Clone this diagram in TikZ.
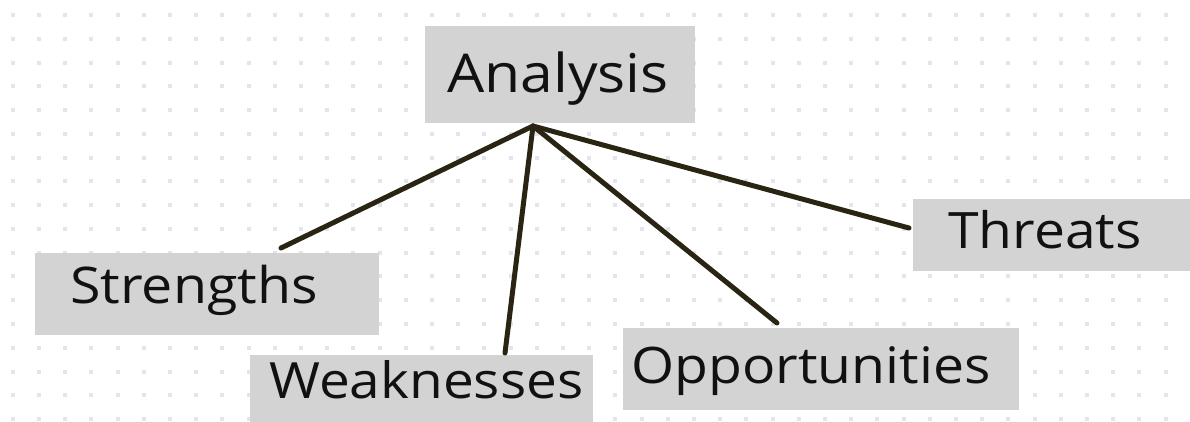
\documentclass[tikz,border=0pt]{standalone}
\usepackage{fontspec}
\setmainfont{Open Sans}[FakeStretch=1.1]
\definecolor{dotgray}{HTML}{E3E5EA}
\definecolor{boxgray}{HTML}{D3D3D3}
\definecolor{linkdark}{HTML}{2A2512}
\definecolor{txtdark}{HTML}{111111}
\begin{document}
\begin{tikzpicture}[x=1pt,y=-1pt,
  box/.style={draw=none,fill=boxgray,inner sep=0pt,anchor=north west},
  lbl/.style={inner sep=0pt,anchor=base west,text=txtdark},
  link/.style={draw=linkdark,line width=5pt,line cap=round}]
\useasboundingbox[fill=white] (0,0) rectangle (1190,421);
% dotted background grid
\foreach \i in {0,...,45}{
  \foreach \j in {0,...,17}{
    \fill[dotgray] ({12.7+26.2*\i-2},{15+23.77*\j-2}) rectangle ++(4,4);
  }
}
% boxes
\node[box,minimum width=270pt,minimum height=97pt] (ana) at (425,26) {};
\node[box,minimum width=344pt,minimum height=82pt] (str) at (35,253) {};
\node[box,minimum width=343pt,minimum height=70pt] (wea) at (250,355) {};
\node[box,minimum width=396pt,minimum height=82pt] (opp) at (623,328) {};
\node[box,minimum width=280pt,minimum height=72pt] (thr) at (913,199) {};
% labels
\node[lbl,font=\fontsize{53.5}{58}\selectfont] (anat) at (447,92) {Analysis};
\node[lbl,font=\fontsize{50.5}{55}\selectfont] (strt) at (70,303) {Strengths};
\node[lbl,font=\fontsize{50}{55}\selectfont] (weat) at (269,398) {Weaknesses};
\node[lbl,font=\fontsize{50.3}{55}\selectfont] (oppt) at (631,383) {Opportunities};
\node[lbl,font=\fontsize{50.2}{55}\selectfont] (thrt) at (948,248) {Threats};
% connector ends
\coordinate (hub) at (533,126);
\coordinate (es) at (281,248);
\coordinate (ew) at (505,353);
\coordinate (eo) at (777,323);
\coordinate (et) at (909,228);
\draw[link] (hub) -- (es);
\draw[link] (hub) -- (ew);
\draw[link] (hub) -- (eo);
\draw[link] (hub) -- (et);
\end{tikzpicture}
\end{document}
